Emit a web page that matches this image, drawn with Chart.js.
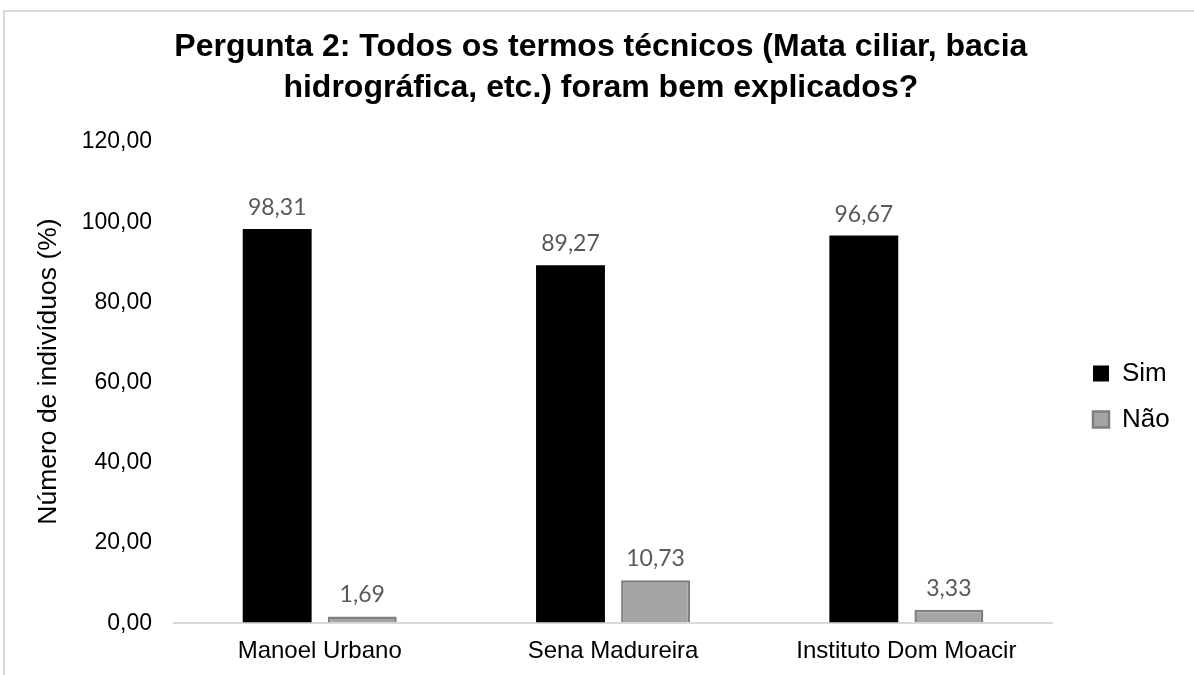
<!DOCTYPE html>
<html>
<head>
    <meta charset="UTF-8">
    <title>Pergunta 2</title>
    <style>
        html, body {
            margin: 0;
            overflow: hidden;
            background: #fff;
        }

        .moldura {
            position: absolute;
            left: 3px;
            top: 10px;
            width: 1200px;
            height: 700px;
            border: 2px solid #d9d9d9;
        }

        #grafico-box {
            position: absolute;
            left: 0;
            top: 0;
            width: 1194px;
            height: 675px;
        }
    </style>
</head>
<body>
    <div class="moldura"></div>
    <div id="grafico-box"><canvas id="grafico"></canvas></div>

    <script src="https://cdn.jsdelivr.net/npm/chart.js"></script>
    <script>
        // dados
        const escolas = ["Manoel Urbano", "Sena Madureira", "Instituto Dom Moacir"];
        const sim = [98.31, 89.27, 96.67];
        const nao = [1.69, 10.73, 3.33];
        const marcasY = [0, 20, 40, 60, 80, 100, 120];

        const formatar = v => v.toFixed(2).replace(".", ",");

        Chart.defaults.font.family = "'Liberation Sans', Arial, sans-serif";
        Chart.defaults.color = "#000";

        // rótulos de valor acima das barras
        const rotulos = {
            id: "rotulos",
            afterDatasetsDraw(chart) {
                const ctx = chart.ctx;
                ctx.save();
                ctx.font = "23px Lato";
                ctx.fillStyle = "#595959";
                ctx.textAlign = "center";
                ctx.textBaseline = "alphabetic";
                chart.data.datasets.forEach((ds, i) => {
                    chart.getDatasetMeta(i).data.forEach((barra, j) => {
                        ctx.fillText(formatar(ds.data[j]), barra.x, barra.y - 14);
                    });
                });
                ctx.restore();
            }
        };

        const ctx = document.querySelector("#grafico").getContext("2d");
        const grafico = new Chart(ctx, {
            type: "bar",
            data: {
                labels: escolas,
                datasets: [{
                    label: "Sim",
                    data: sim,
                    backgroundColor: "#000",
                    borderWidth: 0,
                    categoryPercentage: 0.58,
                    barPercentage: 0.81,
                }, {
                    label: "Não",
                    data: nao,
                    backgroundColor: "#a5a5a5",
                    borderColor: "#7f7f7f",
                    borderWidth: 2.5,
                    categoryPercentage: 0.58,
                    barPercentage: 0.81,
                }],
            },
            options: {
                responsive: true,
                maintainAspectRatio: false,
                animation: false,
                layout: {
                    padding: { left: 22, right: 14.3, top: 0, bottom: -5 }
                },
                plugins: {
                    title: {
                        display: true,
                        text: ["Pergunta 2: Todos os termos técnicos (Mata ciliar, bacia",
                               "hidrográfica, etc.) foram bem explicados?"],
                        color: "#000",
                        font: { size: 32, weight: "bold", lineHeight: 41 / 32 },
                        padding: { top: 26.5, bottom: 33.5 },
                    },
                    legend: {
                        position: "right",
                        fullSize: false,
                        title: {
                            display: true,
                            text: " ",
                            font: { size: 20, lineHeight: 1 },
                            padding: { top: 4, bottom: 4 },
                        },
                        labels: {
                            boxWidth: 16,
                            boxHeight: 16,
                            padding: 20,
                            color: "#000",
                            font: { size: 26 },
                        },
                    },
                    tooltip: { enabled: false },
                },
                scales: {
                    x: {
                        grid: { display: false, drawTicks: false },
                        border: { display: false },
                        ticks: { font: { size: 24 }, padding: 14, color: "#000" },
                    },
                    y: {
                        min: 0,
                        max: 120,
                        afterBuildTicks: s => { s.ticks = marcasY.map(v => ({ value: v })); },
                        border: { display: false },
                        grid: {
                            drawTicks: false,
                            lineWidth: 2,
                            color: c => c.tick && c.tick.value === 0 ? "#d9d9d9" : "rgba(0,0,0,0)",
                        },
                        ticks: {
                            font: { size: 23 },
                            padding: 21,
                            color: "#000",
                            callback: v => formatar(v),
                        },
                        title: {
                            display: true,
                            text: "\u00a0\u00a0\u00a0Número de indivíduos (%)",
                            color: "#000",
                            font: { size: 26.5, lineHeight: 1 },
                            padding: { top: 13.7, bottom: -1.5 },
                        },
                    },
                    // eixo vazio só para afastar a legenda
                    espaco: {
                        type: "linear",
                        position: "right",
                        grid: { display: false },
                        border: { display: false },
                        ticks: { display: false },
                        afterFit: s => { s.width = 20; },
                    },
                },
            },
            plugins: [rotulos],
        });
    </script>
</body>
</html>
